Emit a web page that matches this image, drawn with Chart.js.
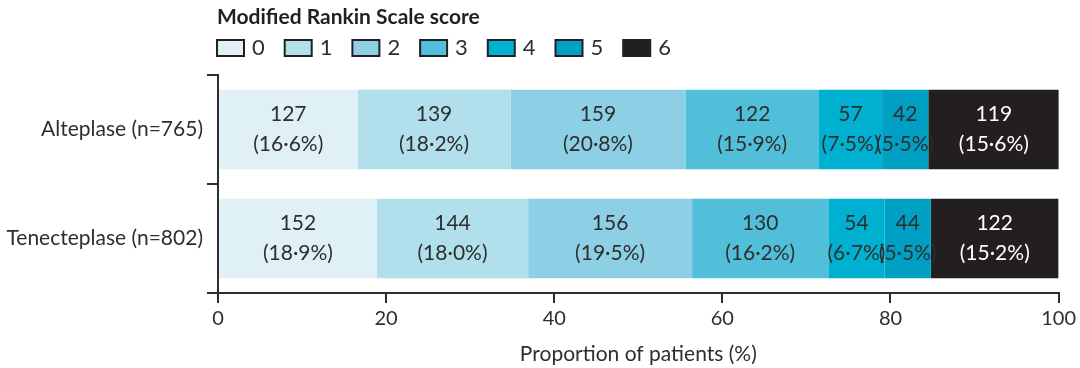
<!DOCTYPE html>
<html>
<head>
<meta charset="utf-8">
<script src="https://cdn.jsdelivr.net/npm/chart.js@4"></script>
<style>
  html, body { margin: 0; padding: 0; background: #fff; }
  #wrap { width: 1080px; height: 368px; }
</style>
</head>
<body>
<div id="wrap"><canvas id="myChart" width="1080" height="368"></canvas></div>
<script>
// data
var groups = ["Alteplase (n=765)", "Tenecteplase (n=802)"];
var scores = ["0", "1", "2", "3", "4", "5", "6"];
var alteplaseN = [127, 139, 159, 122, 57, 42, 119];
var alteplasePct = [16.6, 18.2, 20.8, 15.9, 7.5, 5.5, 15.6];
var tenecteplaseN = [152, 144, 156, 130, 54, 44, 122];
var tenecteplasePct = [18.9, 18.0, 19.5, 16.2, 6.7, 5.5, 15.2];
var scoreColors = ["#dff0f7", "#b2dfec", "#8dd0e6", "#52bfda", "#00b0d0", "#00a0c5", "#231f20"];
var xTicks = [0, 20, 40, 60, 80, 100];

var textColor = "#2e2e2e";
Chart.defaults.font.family = "Lato";
Chart.defaults.color = textColor;

// one dataset per mRS score, stacked across the two groups
var datasets = scores.map(function (s, i) {
  return {
    label: s,
    data: [alteplasePct[i], tenecteplasePct[i]],
    counts: [alteplaseN[i], tenecteplaseN[i]],
    backgroundColor: scoreColors[i],
    borderWidth: 0,
    barPercentage: 0.73,
    categoryPercentage: 1,
  };
});

// legend drawn by hand so it lines up with the plot's left edge
var mrsLegend = {
  id: "mrsLegend",
  afterDraw: function (chart) {
    var ctx = chart.ctx;
    var left = chart.chartArea.left;
    ctx.save();
    ctx.textAlign = "left";
    ctx.textBaseline = "middle";
    ctx.fillStyle = "#231f20";
    ctx.font = "bold 21px Lato";
    ctx.fillText("Modified Rankin Scale score", left - 1, 17);
    ctx.font = "22px Lato";
    chart.data.datasets.forEach(function (ds, i) {
      var x = left - 1 + i * 67.7;
      ctx.fillStyle = ds.backgroundColor;
      ctx.fillRect(x, 40, 27, 16);
      ctx.lineWidth = 2;
      ctx.strokeStyle = "#231f20";
      ctx.strokeRect(x, 40, 27, 16);
      ctx.fillStyle = textColor;
      ctx.fillText(ds.label, x + 35, 48);
    });
    ctx.restore();
  },
};

// count + percentage inside each segment
var barLabels = {
  id: "barLabels",
  afterDatasetsDraw: function (chart) {
    var ctx = chart.ctx;
    ctx.save();
    ctx.font = "21px Lato";
    ctx.textAlign = "center";
    ctx.textBaseline = "middle";
    chart.data.datasets.forEach(function (ds, i) {
      chart.getDatasetMeta(i).data.forEach(function (bar, j) {
        var c = bar.getCenterPoint();
        ctx.fillStyle = i == 6 ? "#ffffff" : textColor;
        ctx.fillText(ds.counts[j], c.x, c.y - 15);
        ctx.fillText("(" + ds.data[j].toFixed(1).replace(".", "·") + "%)", c.x, c.y + 15);
      });
    });
    ctx.restore();
  },
};

var chart = new Chart("myChart", {
  type: "bar",
  data: { labels: groups, datasets: datasets },
  plugins: [barLabels, mrsLegend],
  options: {
    indexAxis: "y",
    responsive: false,
    animation: false,
    layout: { padding: { top: 75, right: 20, left: 0, bottom: 0 } },
    plugins: {
      legend: { display: false },
      tooltip: { enabled: false },
    },
    scales: {
      x: {
        stacked: true,
        min: 0,
        max: 100,
        afterBuildTicks: function (scale) {
          scale.ticks = xTicks.map(function (v) { return { value: v }; });
        },
        grid: { drawOnChartArea: false, tickLength: 10, color: textColor, lineWidth: 2 },
        border: { color: textColor, width: 2 },
        ticks: { color: textColor, font: { size: 20 }, padding: 4, maxRotation: 0 },
        title: {
          display: true,
          text: "Proportion of patients (%)",
          color: textColor,
          font: { size: 21 },
          padding: { top: 4, bottom: 1 },
        },
        afterFit: function (scale) { scale.height = 75; },
      },
      y: {
        stacked: true,
        grid: { drawOnChartArea: false, offset: true, tickLength: 11, color: textColor, lineWidth: 2 },
        border: { color: textColor, width: 2 },
        ticks: { color: textColor, font: { size: 21 }, padding: 4 },
        afterFit: function (scale) { scale.width = 218; },
      },
    },
  },
});
</script>
</body>
</html>
